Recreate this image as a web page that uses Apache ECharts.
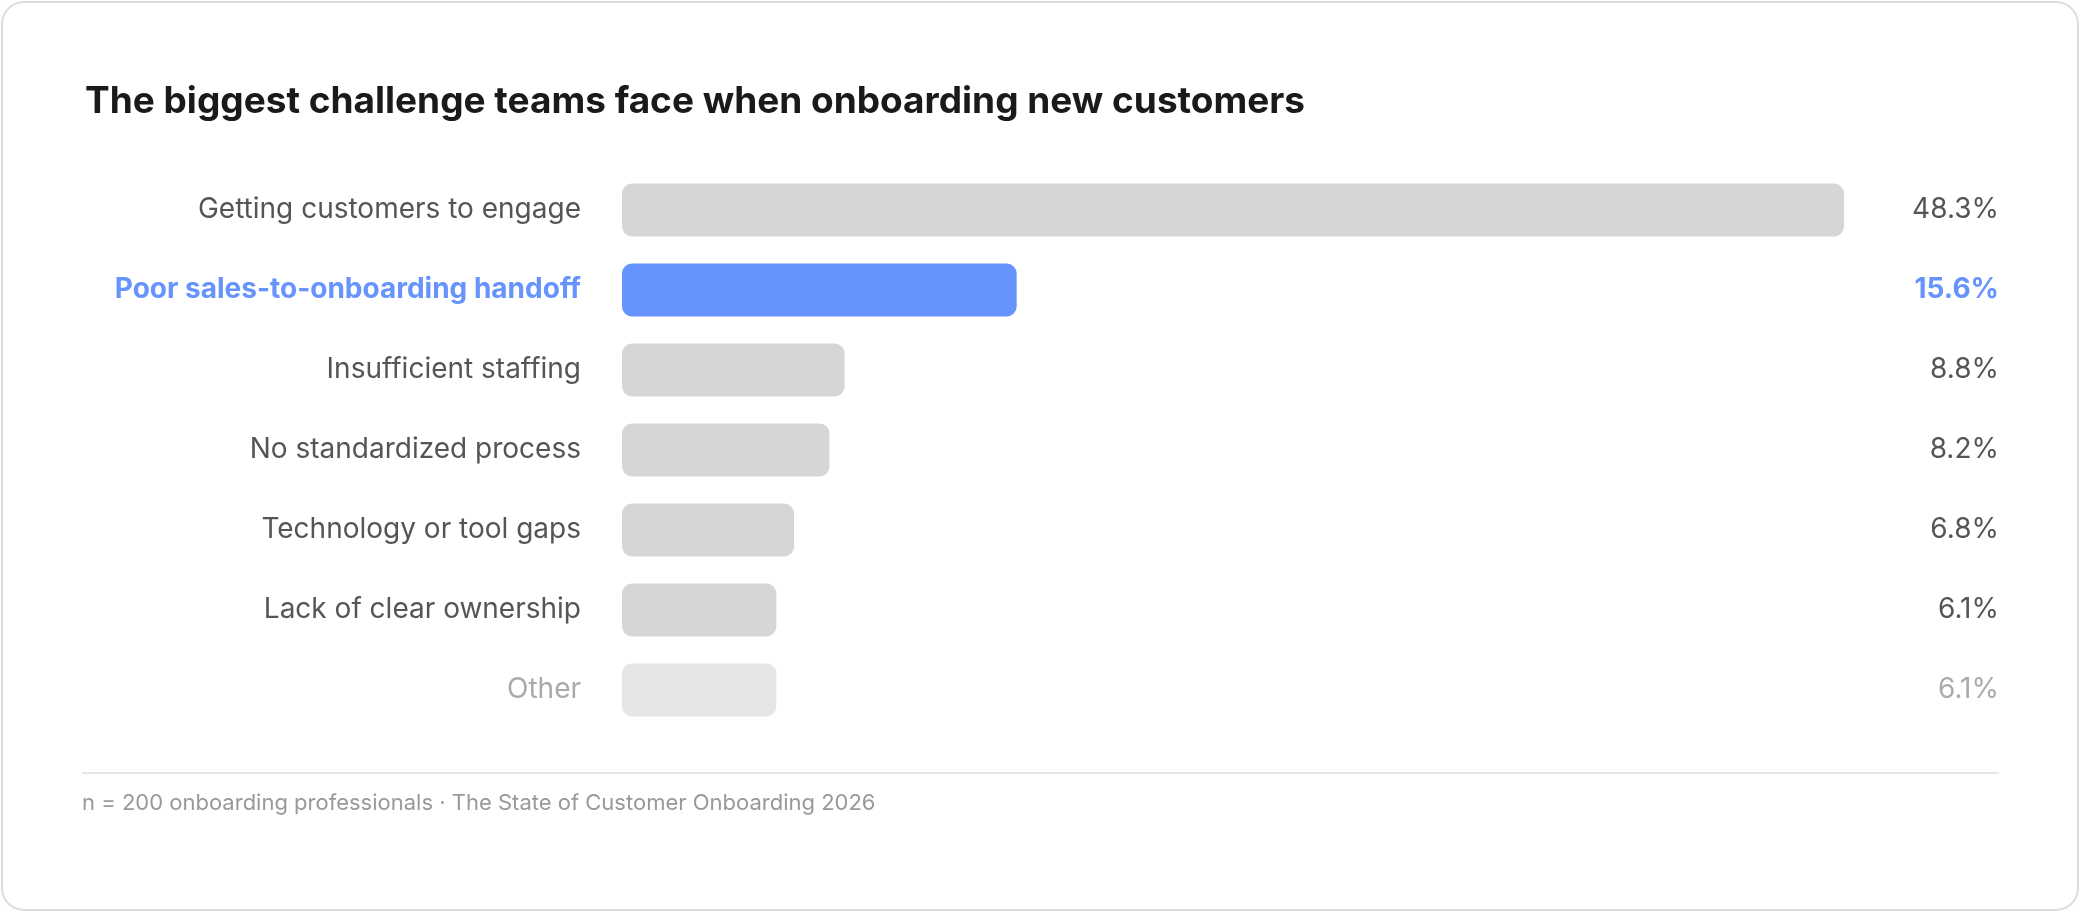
<!DOCTYPE html>
<html><head><meta charset="utf-8">
<script src="https://cdn.jsdelivr.net/npm/echarts@6/dist/echarts.min.js"></script>
<style>html,body{margin:0;background:#fff}#c{width:2080px;height:912px}</style>
</head><body><div id="c"></div>
<script>
const categories=["Getting customers to engage","Poor sales-to-onboarding handoff","Insufficient staffing","No standardized process","Technology or tool gaps","Lack of clear ownership","Other"];
const values=[48.3,15.6,8.8,8.2,6.8,6.1,6.1];
const highlight=1, other=6;
const barColor=i=>i===highlight?'#6694fc':(i===other?'#e6e6e6':'#d6d6d6');
const textStyle=i=>i===highlight?'hl':(i===other?'ot':'nm');
const rich={hl:{color:'#6694fc',fontWeight:'bold',fontSize:28,fontFamily:'Inter'},ot:{color:'#aaaaaa',fontSize:28,fontFamily:'Inter'},nm:{color:'#555555',fontSize:28,fontFamily:'Inter'}};
const chart=echarts.init(document.getElementById('c'));
chart.setOption({
 animation:false,
 graphic:[
  {type:'rect',shape:{x:2,y:2,width:2076,height:908,r:22},style:{fill:'#fff',stroke:'#dddddd',lineWidth:2},z:-10},
  {type:'line',shape:{x1:82,y1:773,x2:1999,y2:773},style:{stroke:'#e6e6e6',lineWidth:2}},
  {type:'text',left:82,top:792,style:{text:'n = 200 onboarding professionals · The State of Customer Onboarding 2026',fill:'#999999',font:'22px Inter'}}
 ],
 title:{text:'The biggest challenge teams face when onboarding new customers',left:80,top:78,textStyle:{fontSize:37,fontWeight:'bold',color:'#1a1a1a',fontFamily:'Inter'}},
 grid:{left:622,top:170,width:1265,height:560},
 xAxis:{type:'value',min:0,max:50,show:false},
 yAxis:[
  {type:'category',inverse:true,data:categories,axisLine:{show:false},axisTick:{show:false},
   axisLabel:{margin:41,formatter:(v,i)=>'{'+textStyle(i)+'|'+v+'}',rich}},
  {type:'category',inverse:true,position:'right',data:values.map(v=>v.toFixed(1)+'%'),axisLine:{show:false},axisTick:{show:false},
   axisLabel:{margin:112,align:'right',formatter:(v,i)=>'{'+textStyle(i)+'|'+v+'}',rich}}
 ],
 series:[{type:'bar',data:values.map((v,i)=>({value:v,itemStyle:{color:barColor(i)}})),barWidth:53,itemStyle:{borderRadius:10}}]
});
</script></body></html>
